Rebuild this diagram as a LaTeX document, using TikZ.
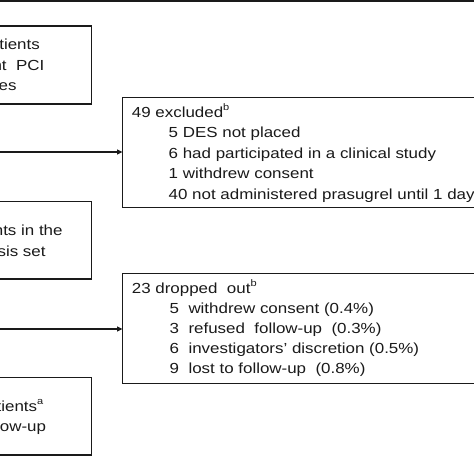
\documentclass[tikz,border=0pt]{standalone}
\usepackage{fontspec}
\setmainfont[FakeStretch=1.16]{Liberation Sans}
\usetikzlibrary{arrows.meta}
\definecolor{ink}{HTML}{1A1A1A}
\tikzset{
  box/.style={draw=ink, line width=1.4bp, fill=none, inner sep=0pt, outer sep=0pt, anchor=north west},
  txt/.style={inner sep=0pt, anchor=base west, text=ink, font=\fontsize{14.6bp}{20bp}\selectfont},
  rtxt/.style={txt, anchor=base east},
  arr/.style={draw=ink, line width=1.3bp, -{Triangle[length=5.5bp,width=5bp]}}
}
\newcommand{\sups}[1]{\raisebox{0.45em}{\fontsize{9.5bp}{10bp}\selectfont #1}}
\begin{document}
\begin{tikzpicture}[x=1bp,y=-1bp]
\useasboundingbox (0,0) rectangle (474,474);
\clip (0,0) rectangle (474,474);
\fill[white] (0,0) rectangle (474,474);
% top rule
\draw[ink, line width=2.6bp] (-5,1.2) -- (480,1.2);
% left boxes
\node[box, minimum width=151.5bp, minimum height=78bp] (l1) at (-60,26) {};
\node[box, minimum width=151.5bp, minimum height=77.5bp] (l2) at (-60,201.5) {};
\node[box, minimum width=151.5bp, minimum height=77.5bp] (l3) at (-60,377.5) {};
% right boxes
\node[box, minimum width=400bp, minimum height=110bp] (ex) at (122.5,97.5) {};
\node[box, minimum width=400bp, minimum height=110bp] (dr) at (122.5,273.3) {};
% arrows
\coordinate (s1) at (-5,152);
\coordinate (s2) at (-5,329);
\draw[arr] (s1) -- (s1 -| ex.west);
\draw[arr] (s2) -- (s2 -| dr.west);
% left texts (cut at the left edge)
\node[rtxt] (t11) at (40,49.5) {tients};
\node[rtxt] (t12) at (44.5,70.5) {nt\ \ PCI};
\node[rtxt] (t13) at (16.8,91) {es};
\node[rtxt] (t21) at (62.8,236) {nts in the};
\node[rtxt] (t22) at (45.8,256.5) {sis set};
\node[rtxt] (t31) at (43.5,411.5) {tients\sups{a}};
\node[rtxt] (t32) at (46.2,431.5) {low-up};
% excluded box texts
\node[txt] (e0) at (131.7,117.5) {49 excluded\sups{b}};
\node[txt] (e1) at (168.5,138) {5 DES not placed};
\node[txt] (e2) at (168.5,158.5) {6 had participated in a clinical study};
\node[txt] (e3) at (168.5,179) {1 withdrew consent};
\node[txt] (e4) at (168.5,199.6) {40 not administered prasugrel until 1 day};
% dropped out box texts
\node[txt] (d0) at (131.7,293.3) {23 dropped\ \ out\sups{b}};
\foreach \n/\y/\t in {1/313.3/withdrew consent (0.4\%), 2/333.3/refused\ \ follow-up\ \ (0.3\%), 3/353.3/investigators’ discretion (0.5\%), 4/373.3/lost to follow-up\ \ (0.8\%)}{
  \node[txt] (dt\n) at (188.3,\y) {\t};
}
\node[txt] (dn1) at (169.3,313.3) {5};
\node[txt] (dn2) at (169.3,333.3) {3};
\node[txt] (dn3) at (169.3,353.3) {6};
\node[txt] (dn4) at (169.3,373.3) {9};
\end{tikzpicture}
\end{document}
